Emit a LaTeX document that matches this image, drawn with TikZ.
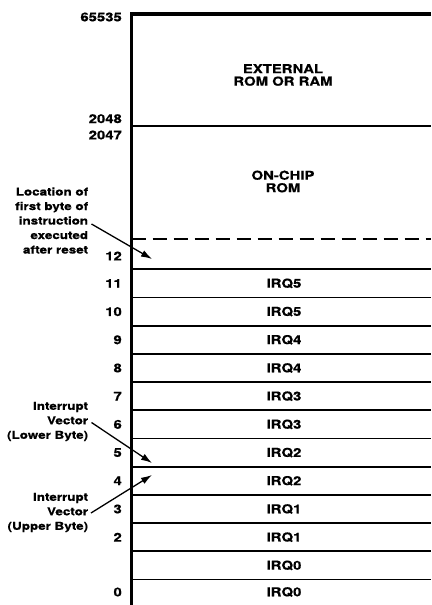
\documentclass[tikz,border=0pt]{standalone}
\usepackage{fontspec}
\usetikzlibrary{arrows.meta}
\newfontfamily\hv[FakeStretch=1.22,BoldFeatures={FakeBold=0.6}]{TeX Gyre Heros}
\begin{document}
\begin{tikzpicture}[x=1pt,y=-1pt,
  lbl/.style={font=\hv\bfseries\fontsize{12.2}{12.5}\selectfont, inner sep=0pt, align=center},
  num/.style={lbl, anchor=east},
  ann/.style={font=\hv\bfseries\fontsize{11}{14.5}\selectfont, inner sep=0pt, align=right, anchor=east},
  rule/.style={line width=1.7pt},
  border/.style={line width=3.8pt, line join=miter},
  pointer/.style={line width=1.3pt, -{Latex[length=11pt,width=7pt]}}]
\useasboundingbox (0,0) rectangle (431,605);
% frame
\draw[border] (431,14) -- (131.5,14) -- (131.5,605);
\draw[rule] (131.5,126) -- (431,126);
\draw[rule, dash pattern=on 14pt off 7pt] (131.5,239) -- (431,239);
\foreach \k in {0,...,11}
  \draw[rule] (131.5,{269.3+28.2*\k}) -- (431,{269.3+28.2*\k});
% region labels
\node[lbl] (ext) at (283,75) {EXTERNAL\\ROM OR RAM};
\node[lbl] (onchip) at (283,181.5) {ON-CHIP\\ROM};
% address labels at top
\node[num] (a65535) at (122,17) {65535};
\node[num] (a2048) at (122,118.7) {2048};
\node[num] (a2047) at (122,135) {2047};
\node[num] (a12) at (122,256) {12};
% rows
\foreach \y/\t/\k in {283.4/IRQ5/11, 311.6/IRQ5/10, 339.8/IRQ4/9, 368.0/IRQ4/8,
    396.2/IRQ3/7, 424.4/IRQ3/6, 452.6/IRQ2/5, 480.8/IRQ2/4, 509.0/IRQ1/3,
    537.2/IRQ1/2, 565.4/IRQ0/1, 592/IRQ0/0}
  \node[lbl] (irq\k) at (284,\y) {\t};
\foreach \y/\n in {283.4/11, 311.6/10, 339.8/9, 368.0/8, 396.2/7, 424.4/6,
    452.6/5, 480.8/4, 509.0/3, 537.2/2, 592/0}
  \node[num] (a\n) at (122,\y) {\n};
% annotations
\node[ann] (reset) at (88.3,220.5) {Location of\\first byte of\\instruction\\executed\\after reset};
\node[ann] (lower) at (88.3,421.5) {Interrupt\\Vector\\(Lower Byte)};
\node[ann] (upper) at (88.3,512.5) {Interrupt\\Vector\\(Upper Byte)};
\coordinate (s1) at (91.5,224);
\coordinate (t1) at (152,259);
\coordinate (s2) at (91.5,422.5);
\coordinate (t2) at (152,463);
\coordinate (s3) at (91,513);
\coordinate (t3) at (152,475);
\draw[pointer] (s1) -- (t1);
\draw[pointer] (s2) -- (t2);
\draw[pointer] (s3) -- (t3);
\end{tikzpicture}
\end{document}
